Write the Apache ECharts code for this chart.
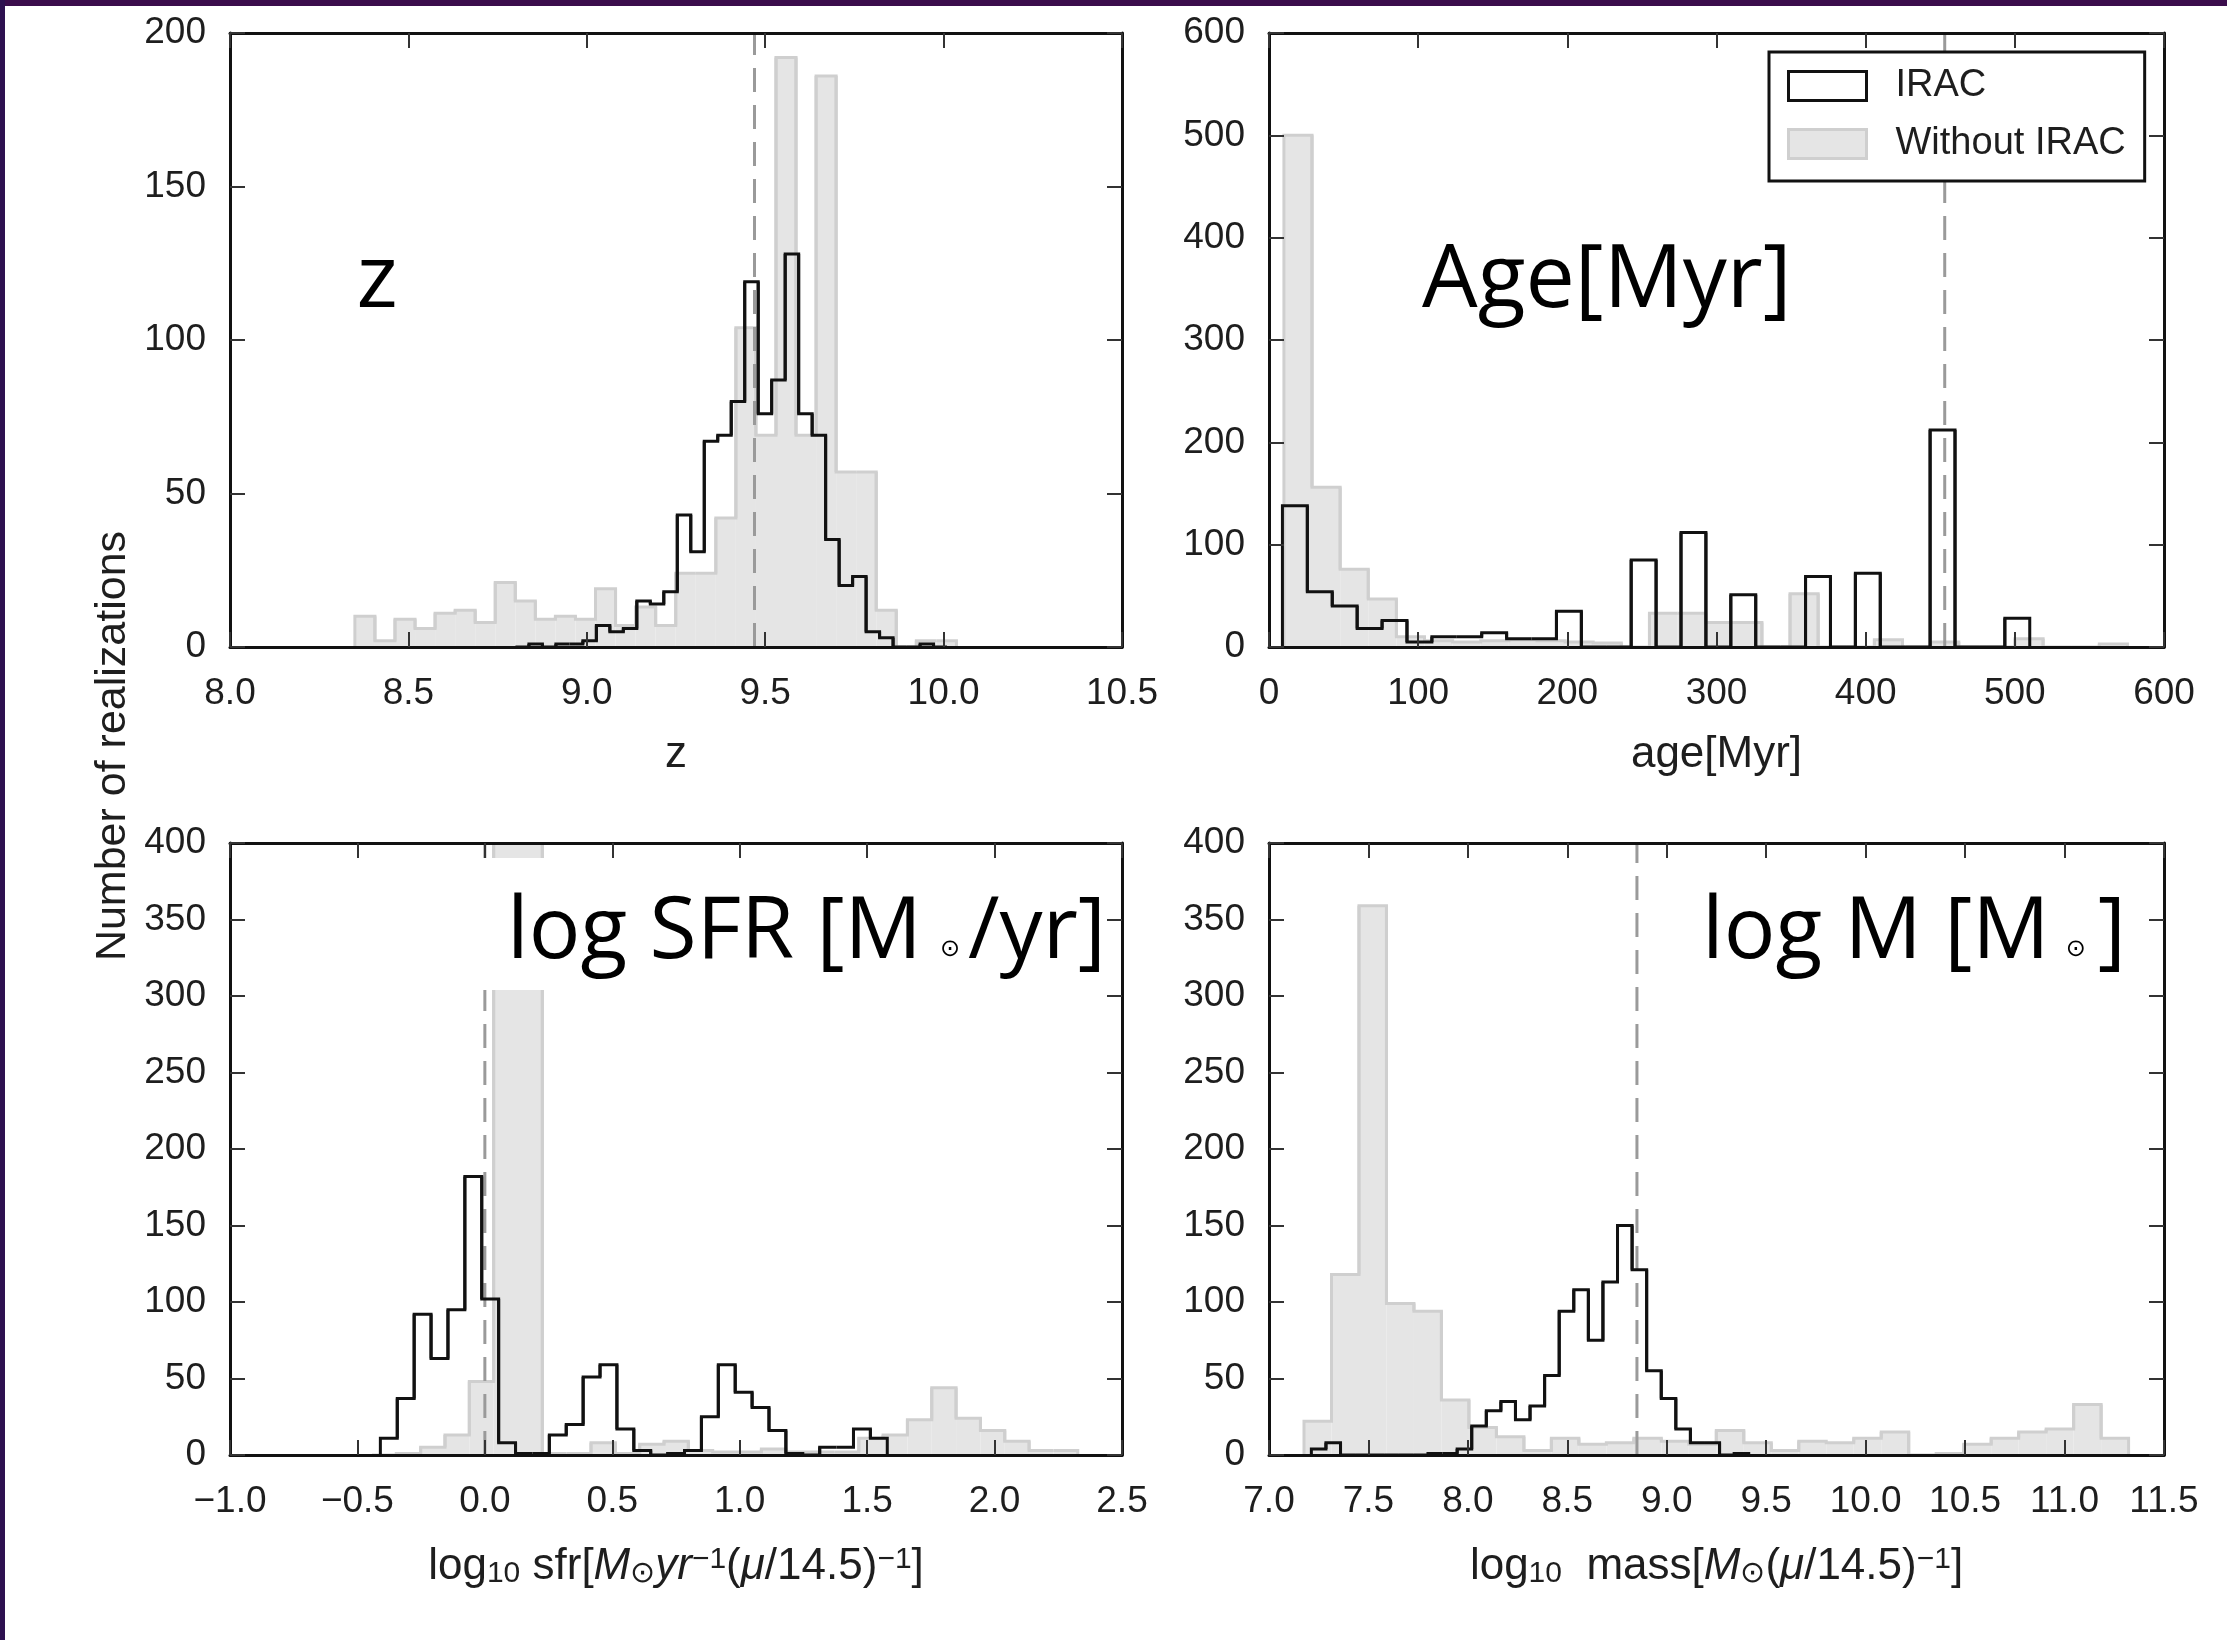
<!DOCTYPE html>
<html><head><meta charset="utf-8">
<script src="https://cdn.jsdelivr.net/npm/echarts@6/dist/echarts.min.js"></script>
<style>html,body{margin:0;padding:0;background:#fff}#c{width:2227px;height:1640px}</style>
</head><body><div id="c"></div>
<script>
// ---------------- data ----------------
// panel 1 : redshift z
const zTicksX = [8.0, 8.5, 9.0, 9.5, 10.0, 10.5];
const zTicksY = [0, 50, 100, 150, 200];
const zIracStart = 8.80, zIracWidth = 0.0378;
const zIracCounts = [0,1,0,1,1,2,7,5,6,15,14,18,43,31,67,69,80,119,76,87,128,76,69,35,20,23,5,3,0,0,1,0];
const zNoIracStart = 8.35, zNoIracWidth = 0.0562;
const zNoIracCounts = [10,2,9,6,11,12,8,21,15,9,10,9,19,7,13,7,24,24,42,104,69,192,69,186,57,57,12,0,2,2];
const zBest = 9.47;

// panel 2 : age [Myr]
const ageTicksX = [0, 100, 200, 300, 400, 500, 600];
const ageTicksY = [0, 100, 200, 300, 400, 500, 600];
const ageIracStart = 9, ageIracWidth = 16.7;
const ageIracCounts = [138,54,40,18,26,5,10,10,14,8,8,35,0,0,85,0,112,0,51,0,0,69,0,72,0,0,212,0,0,28];
const ageNoIracStart = 10, ageNoIracWidth = 18.85;
const ageNoIracCounts = [500,156,76,47,10,6,5,6,7,6,5,4,0,33,33,24,24,0,52,0,0,7,0,5,0,0,8,0,0,3];
const ageBest = 453;

// panel 3 : log10 sfr
const sfrTicksX = [-1.0, -0.5, 0.0, 0.5, 1.0, 1.5, 2.0, 2.5];
const sfrTicksY = [0, 50, 100, 150, 200, 250, 300, 350, 400];
const sfrIracStart = -0.41, sfrIracWidth = 0.0663;
const sfrIracCounts = [11,37,92,63,95,182,102,8,1,1,13,20,51,59,17,3,0,1,3,25,59,41,31,16,1,0,5,5,17,11];
const sfrNoIracStart = -0.443, sfrNoIracWidth = 0.0955;
const sfrNoIracCounts = [0,1,5,13,48,450,450,1,1,8,1,7,9,3,2,2,4,2,2,2,11,13,23,44,24,16,9,3,3];
const sfrBest = 0.0;

// panel 4 : log10 mass
const massTicksX = [7.0, 7.5, 8.0, 8.5, 9.0, 9.5, 10.0, 10.5, 11.0, 11.5];
const massTicksY = [0, 50, 100, 150, 200, 250, 300, 350, 400];
const massIracStart = 7.213, massIracWidth = 0.0733;
const massIracCounts = [4,8,0,0,0,0,0,0,1,1,4,19,29,35,23,32,52,94,108,75,113,150,121,55,37,17,8,8,0,1];
const massNoIracStart = 7.176, massNoIracWidth = 0.1382;
const massNoIracCounts = [22,118,359,99,94,36,18,12,3,11,7,8,11,9,7,16,8,3,9,8,11,15,0,1,7,11,15,17,33,11];
const massBest = 8.85;

const seriesNames = ['IRAC', 'Without IRAC'];
const yAxisTitle = 'Number of realizations';

// ---------------- helpers ----------------
const LBL_FONT = "'Liberation Sans', Arial, sans-serif";
const BIG_FONT = "'Open Sans', 'Noto Sans', sans-serif";
const INK = '#1e1e1e';

function binItems(start, width, counts) {
  return counts.map((c, i) => [start + i * width, start + (i + 1) * width, c,
    i > 0 ? counts[i - 1] : 0, i < counts.length - 1 ? counts[i + 1] : 0]);
}
function makeRender(filled) {
  return function (params, api) {
    const x0 = api.value(0), x1 = api.value(1), v = api.value(2), vp = api.value(3), vn = api.value(4);
    const a = api.coord([x0, vp]), b = api.coord([x0, v]), c = api.coord([x1, v]), d = api.coord([x1, vn]);
    const base = api.coord([x0, 0]);
    const children = [];
    if (filled) {
      children.push({ type: 'rect', z2: 0,
        shape: { x: b[0], y: b[1], width: c[0] - b[0], height: base[1] - b[1] },
        style: { fill: '#e5e5e5' } });
    }
    children.push({ type: 'polyline', z2: 1, shape: { points: [a, b, c, d] },
      style: { fill: null, stroke: filled ? '#cfcfcf' : '#111', lineWidth: 3, lineJoin: 'miter' } });
    return { type: 'group', children };
  };
}
const fmt1 = v => (v < 0 ? '\u2212' : '') + Math.abs(v).toFixed(1);
const fmt0 = v => String(Math.round(v));

const grids = [
  { left: 230, top: 33, width: 892, height: 614 },
  { left: 1269, top: 33, width: 895, height: 614 },
  { left: 230, top: 843, width: 892, height: 612 },
  { left: 1269, top: 843, width: 895, height: 612 }
].map(g => Object.assign({ outerBoundsMode: 'none', containLabel: false }, g));

const subRich = {
  r: { fontSize: 44, fontFamily: LBL_FONT, color: INK },
  i: { fontSize: 44, fontFamily: LBL_FONT, color: INK, fontStyle: 'italic' },
  s: { fontSize: 30, fontFamily: LBL_FONT, color: INK, verticalAlign: 'bottom' },
  p: { fontSize: 30, fontFamily: LBL_FONT, color: INK, verticalAlign: 'top' },
  g: { fontSize: 44, fontFamily: LBL_FONT, color: INK, padding: [0, 8, 0, 0] }
};

const panels = [
  { tx: zTicksX, ty: zTicksY, fx: fmt1, name: 'z', gap: 86,
    irac: [zIracStart, zIracWidth, zIracCounts], no: [zNoIracStart, zNoIracWidth, zNoIracCounts], best: zBest },
  { tx: ageTicksX, ty: ageTicksY, fx: fmt0, name: 'age[Myr]', gap: 86,
    irac: [ageIracStart, ageIracWidth, ageIracCounts], no: [ageNoIracStart, ageNoIracWidth, ageNoIracCounts], best: ageBest },
  { tx: sfrTicksX, ty: sfrTicksY, fx: fmt1,
    name: '{r|log}{s|10}{r| sfr[}{i|M}{s|\u2299}{i|yr}{p|\u22121}{r|(}{i|\u03bc}{r|/14.5)}{p|\u22121}{r|]}', gap: 90,
    irac: [sfrIracStart, sfrIracWidth, sfrIracCounts], no: [sfrNoIracStart, sfrNoIracWidth, sfrNoIracCounts], best: sfrBest },
  { tx: massTicksX, ty: massTicksY, fx: fmt1,
    name: '{r|log}{s|10}{r|  mass[}{i|M}{s|\u2299}{r|(}{i|\u03bc}{r|/14.5)}{p|\u22121}{r|]}', gap: 90,
    irac: [massIracStart, massIracWidth, massIracCounts], no: [massNoIracStart, massNoIracWidth, massNoIracCounts], best: massBest }
];

const xAxis = [], yAxis = [], series = [];
const lineAx = { show: true, onZero: false, lineStyle: { color: '#111', width: 3 } };
const tickAx = { show: true, inside: true, length: 15, lineStyle: { color: '#333', width: 2 } };
panels.forEach((p, i) => {
  const xr = { min: p.tx[0], max: p.tx[p.tx.length - 1], interval: p.tx[1] - p.tx[0] };
  const yr = { min: p.ty[0], max: p.ty[p.ty.length - 1], interval: p.ty[1] - p.ty[0] };
  xAxis.push(Object.assign({ type: 'value', gridIndex: i, position: 'bottom', z: 10,
    axisLine: lineAx, axisTick: tickAx, splitLine: { show: false },
    axisLabel: { show: true, margin: 28, fontSize: 37, fontFamily: LBL_FONT, color: INK, formatter: p.fx,
      showMinLabel: true, showMaxLabel: true },
    name: p.name, nameLocation: 'middle', nameGap: p.gap, nameMoveOverlap: false,
    nameTextStyle: { fontSize: 44, fontFamily: LBL_FONT, color: INK, rich: subRich } }, xr));
  xAxis.push(Object.assign({ type: 'value', gridIndex: i, position: 'top', z: 10,
    axisLine: lineAx, axisTick: tickAx, splitLine: { show: false }, axisLabel: { show: false } }, xr));
  yAxis.push(Object.assign({ type: 'value', gridIndex: i, position: 'left', z: 10,
    axisLine: lineAx, axisTick: tickAx, splitLine: { show: false },
    axisLabel: { show: true, margin: 24, fontSize: 37, fontFamily: LBL_FONT, color: INK,
      showMinLabel: true, showMaxLabel: true } }, yr));
  yAxis.push(Object.assign({ type: 'value', gridIndex: i, position: 'right', z: 10,
    axisLine: lineAx, axisTick: tickAx, splitLine: { show: false }, axisLabel: { show: false } }, yr));

  series.push({ type: 'custom', name: seriesNames[1], xAxisIndex: 2 * i, yAxisIndex: 2 * i, z: 2,
    clip: true, silent: true, itemStyle: { color: '#e5e5e5' }, encode: { x: [0, 1], y: 2 },
    renderItem: makeRender(true), data: binItems(p.no[0], p.no[1], p.no[2]) });
  series.push({ type: 'line', name: 'best', xAxisIndex: 2 * i, yAxisIndex: 2 * i, z: 3,
    symbol: 'none', silent: true, lineStyle: { color: '#9a9a9a', width: 3, type: [24, 13] },
    data: [[p.best, yr.min], [p.best, yr.max]] });
  series.push({ type: 'custom', name: seriesNames[0], xAxisIndex: 2 * i, yAxisIndex: 2 * i, z: 4,
    clip: true, silent: true, itemStyle: { color: '#fff' }, encode: { x: [0, 1], y: 2 },
    renderItem: makeRender(false), data: binItems(p.irac[0], p.irac[1], p.irac[2]) });
});

const option = {
  animation: false,
  backgroundColor: '#fff',
  grid: grids,
  xAxis, yAxis, series,
  legend: {
    orient: 'vertical', left: 1769, top: 52, padding: [15, 19, 18, 18], itemGap: 20,
    itemWidth: 78, itemHeight: 29, backgroundColor: '#fff', borderColor: '#111', borderWidth: 3,
    borderRadius: 0, selectedMode: false, z: 20,
    textStyle: { fontSize: 38, fontFamily: LBL_FONT, color: INK, padding: [0, 0, 0, 24] },
    data: [
      { name: seriesNames[0], icon: 'rect', itemStyle: { color: '#fff', borderColor: '#111', borderWidth: 3 } },
      { name: seriesNames[1], icon: 'rect', itemStyle: { color: '#e5e5e5', borderColor: '#cfcfcf', borderWidth: 3 } }
    ]
  },
  graphic: [
    { type: 'rect', z: 50, shape: { x: 0, y: 0, width: 2227, height: 6 }, style: { fill: '#3b0d4c' } },
    { type: 'rect', z: 50, shape: { x: 0, y: 0, width: 5, height: 1640 }, style: { fill: '#2e1150' } },
    { type: 'text', z: 6, x: 113, y: 746, rotation: Math.PI / 2,
      style: { text: yAxisTitle, fontSize: 43, fontFamily: LBL_FONT, fill: INK, align: 'center', verticalAlign: 'middle' } },
    { type: 'rect', z: 5, shape: { x: 480, y: 858, width: 639, height: 132 }, style: { fill: '#fff' } },
    { type: 'text', z: 6, x: 377, y: 282,
      style: { text: 'z', fontSize: 88, fontFamily: BIG_FONT, fill: '#000', align: 'center', verticalAlign: 'middle' } },
    { type: 'text', z: 6, x: 1422, y: 282,
      style: { text: 'Age[Myr]', fontSize: 88, fontFamily: BIG_FONT, fill: '#000', align: 'left', verticalAlign: 'middle' } },
    { type: 'text', z: 6, x: 507, y: 933,
      style: { text: '{a|log SFR [M}{s|\u2299}{a|/yr]}', align: 'left', verticalAlign: 'middle',
        rich: { a: { fontSize: 86, fontFamily: BIG_FONT, fill: '#000', color: '#000' },
                s: { fontSize: 24, fontFamily: "'DejaVu Sans', sans-serif", fill: '#000', color: '#000', verticalAlign: 'bottom', padding: [0, 8, 14, 18] } } } },
    { type: 'text', z: 6, x: 1702, y: 933,
      style: { text: '{a|log M [M}{s|\u2299}{a|]}', align: 'left', verticalAlign: 'middle',
        rich: { a: { fontSize: 86, fontFamily: BIG_FONT, fill: '#000', color: '#000' },
                s: { fontSize: 24, fontFamily: "'DejaVu Sans', sans-serif", fill: '#000', color: '#000', verticalAlign: 'bottom', padding: [0, 12, 14, 16] } } } }
  ]
};
const chart = echarts.init(document.getElementById('c'), null, { renderer: 'canvas' });
chart.setOption(option);
</script></body></html>
